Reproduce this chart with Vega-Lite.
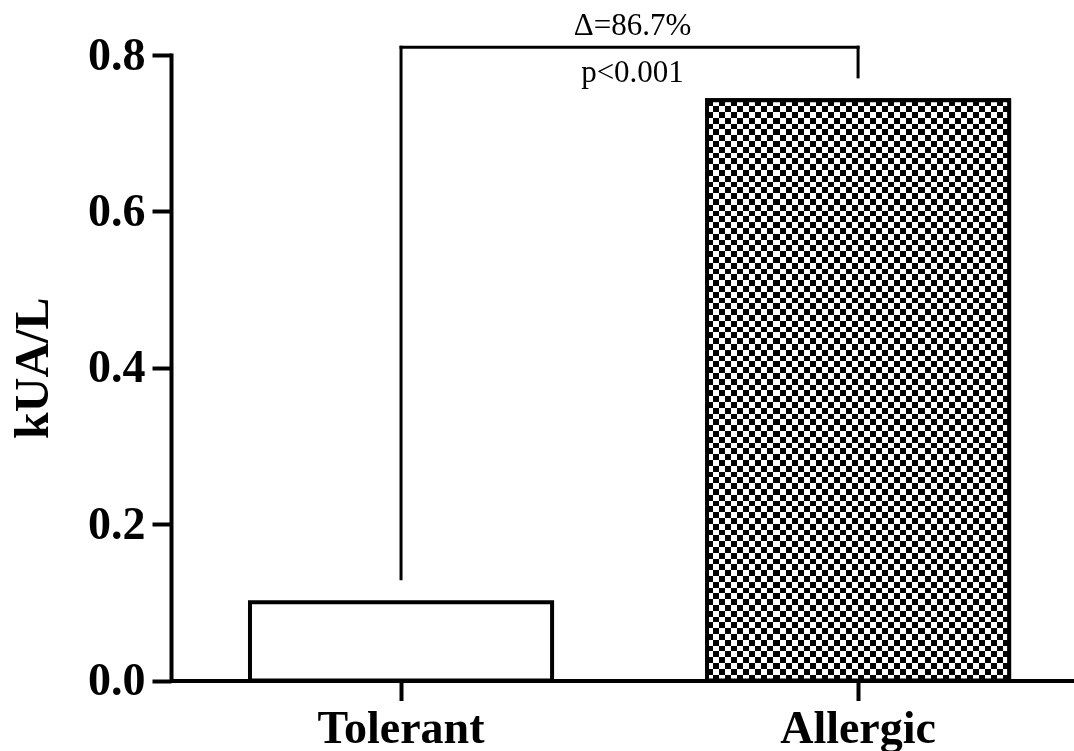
{
  "$schema": "https://vega.github.io/schema/vega-lite/v6.json",
  "width": 903,
  "height": 625.5,
  "autosize": {"type": "none"},
  "padding": {"left": 171, "top": 55, "right": 0, "bottom": 70.5},
  "background": "white",
  "config": {
    "view": {"stroke": null},
    "axis": {"grid": false, "domainColor": "black", "tickColor": "black", "labelColor": "black", "titleColor": "black", "domainWidth": 4, "tickWidth": 4, "labelFont": "Liberation Serif", "labelFontSize": 46, "labelFontWeight": "bold", "titleFont": "Liberation Serif", "titleFontWeight": "bold"},
    "axisX": {"labelAngle": 0, "labelPadding": 6, "tickSize": 20},
    "axisY": {"labelPadding": 7, "tickSize": 19, "titleFontSize": 48, "titlePadding": 30, "domainCap": "square"}
  },
  "datasets": {
    "bars": [
      {"group": "Tolerant", "value": 0.1},
      {"group": "Allergic", "value": 0.742}
    ],
    "bracket": [
      {"group": "Tolerant", "group2": "Tolerant", "value": 0.13, "value2": 0.81},
      {"group": "Tolerant", "group2": "Allergic", "value": 0.81, "value2": 0.81},
      {"group": "Allergic", "group2": "Allergic", "value": 0.772, "value2": 0.81}
    ],
    "notes": [
      {"label": "Δ=86.7%", "value": 0.826},
      {"label": "p<0.001", "value": 0.765}
    ]
  },
  "layer": [
    {
      "data": {"name": "bars"},
      "mark": {"type": "bar", "fill": "white", "stroke": "black", "strokeWidth": 4},
      "encoding": {
        "x": {
          "field": "group", "type": "nominal", "title": null,
          "scale": {"domain": ["Tolerant", "Allergic"], "paddingInner": 0.339, "paddingOuter": 0.1574, "align": 0.549}
        },
        "y": {
          "field": "value", "type": "quantitative", "title": "kUA/L",
          "scale": {"domain": [0, 0.8], "nice": false, "zero": true},
          "axis": {"values": [0, 0.2, 0.4, 0.6, 0.8], "format": ".1f"}
        }
      }
    },
    {
      "data": {"name": "bars"},
      "transform": [{"filter": "datum.group === 'Allergic'"}],
      "mark": {"type": "bar", "strokeWidth": 0, "fill": {"gradient": "linear", "x1": 0, "y1": 0, "x2": 0, "y2": 1, "stops": [
        {"offset":0,"color":"#000"},{"offset":0.01,"color":"#000"},{"offset":0.01,"color":"#fff"},{"offset":0.02,"color":"#fff"},
        {"offset":0.02,"color":"#000"},{"offset":0.03,"color":"#000"},{"offset":0.03,"color":"#fff"},{"offset":0.04,"color":"#fff"},
        {"offset":0.04,"color":"#000"},{"offset":0.05,"color":"#000"},{"offset":0.05,"color":"#fff"},{"offset":0.06,"color":"#fff"},
        {"offset":0.06,"color":"#000"},{"offset":0.07,"color":"#000"},{"offset":0.07,"color":"#fff"},{"offset":0.08,"color":"#fff"},
        {"offset":0.08,"color":"#000"},{"offset":0.09,"color":"#000"},{"offset":0.09,"color":"#fff"},{"offset":0.10,"color":"#fff"},
        {"offset":0.10,"color":"#000"},{"offset":0.11,"color":"#000"},{"offset":0.11,"color":"#fff"},{"offset":0.12,"color":"#fff"},
        {"offset":0.12,"color":"#000"},{"offset":0.13,"color":"#000"},{"offset":0.13,"color":"#fff"},{"offset":0.14,"color":"#fff"},
        {"offset":0.14,"color":"#000"},{"offset":0.15,"color":"#000"},{"offset":0.15,"color":"#fff"},{"offset":0.16,"color":"#fff"},
        {"offset":0.16,"color":"#000"},{"offset":0.17,"color":"#000"},{"offset":0.17,"color":"#fff"},{"offset":0.18,"color":"#fff"},
        {"offset":0.18,"color":"#000"},{"offset":0.19,"color":"#000"},{"offset":0.19,"color":"#fff"},{"offset":0.20,"color":"#fff"},
        {"offset":0.20,"color":"#000"},{"offset":0.21,"color":"#000"},{"offset":0.21,"color":"#fff"},{"offset":0.22,"color":"#fff"},
        {"offset":0.22,"color":"#000"},{"offset":0.23,"color":"#000"},{"offset":0.23,"color":"#fff"},{"offset":0.24,"color":"#fff"},
        {"offset":0.24,"color":"#000"},{"offset":0.25,"color":"#000"},{"offset":0.25,"color":"#fff"},{"offset":0.26,"color":"#fff"},
        {"offset":0.26,"color":"#000"},{"offset":0.27,"color":"#000"},{"offset":0.27,"color":"#fff"},{"offset":0.28,"color":"#fff"},
        {"offset":0.28,"color":"#000"},{"offset":0.29,"color":"#000"},{"offset":0.29,"color":"#fff"},{"offset":0.30,"color":"#fff"},
        {"offset":0.30,"color":"#000"},{"offset":0.31,"color":"#000"},{"offset":0.31,"color":"#fff"},{"offset":0.32,"color":"#fff"},
        {"offset":0.32,"color":"#000"},{"offset":0.33,"color":"#000"},{"offset":0.33,"color":"#fff"},{"offset":0.34,"color":"#fff"},
        {"offset":0.34,"color":"#000"},{"offset":0.35,"color":"#000"},{"offset":0.35,"color":"#fff"},{"offset":0.36,"color":"#fff"},
        {"offset":0.36,"color":"#000"},{"offset":0.37,"color":"#000"},{"offset":0.37,"color":"#fff"},{"offset":0.38,"color":"#fff"},
        {"offset":0.38,"color":"#000"},{"offset":0.39,"color":"#000"},{"offset":0.39,"color":"#fff"},{"offset":0.40,"color":"#fff"},
        {"offset":0.40,"color":"#000"},{"offset":0.41,"color":"#000"},{"offset":0.41,"color":"#fff"},{"offset":0.42,"color":"#fff"},
        {"offset":0.42,"color":"#000"},{"offset":0.43,"color":"#000"},{"offset":0.43,"color":"#fff"},{"offset":0.44,"color":"#fff"},
        {"offset":0.44,"color":"#000"},{"offset":0.45,"color":"#000"},{"offset":0.45,"color":"#fff"},{"offset":0.46,"color":"#fff"},
        {"offset":0.46,"color":"#000"},{"offset":0.47,"color":"#000"},{"offset":0.47,"color":"#fff"},{"offset":0.48,"color":"#fff"},
        {"offset":0.48,"color":"#000"},{"offset":0.49,"color":"#000"},{"offset":0.49,"color":"#fff"},{"offset":0.50,"color":"#fff"},
        {"offset":0.50,"color":"#000"},{"offset":0.51,"color":"#000"},{"offset":0.51,"color":"#fff"},{"offset":0.52,"color":"#fff"},
        {"offset":0.52,"color":"#000"},{"offset":0.53,"color":"#000"},{"offset":0.53,"color":"#fff"},{"offset":0.54,"color":"#fff"},
        {"offset":0.54,"color":"#000"},{"offset":0.55,"color":"#000"},{"offset":0.55,"color":"#fff"},{"offset":0.56,"color":"#fff"},
        {"offset":0.56,"color":"#000"},{"offset":0.57,"color":"#000"},{"offset":0.57,"color":"#fff"},{"offset":0.58,"color":"#fff"},
        {"offset":0.58,"color":"#000"},{"offset":0.59,"color":"#000"},{"offset":0.59,"color":"#fff"},{"offset":0.60,"color":"#fff"},
        {"offset":0.60,"color":"#000"},{"offset":0.61,"color":"#000"},{"offset":0.61,"color":"#fff"},{"offset":0.62,"color":"#fff"},
        {"offset":0.62,"color":"#000"},{"offset":0.63,"color":"#000"},{"offset":0.63,"color":"#fff"},{"offset":0.64,"color":"#fff"},
        {"offset":0.64,"color":"#000"},{"offset":0.65,"color":"#000"},{"offset":0.65,"color":"#fff"},{"offset":0.66,"color":"#fff"},
        {"offset":0.66,"color":"#000"},{"offset":0.67,"color":"#000"},{"offset":0.67,"color":"#fff"},{"offset":0.68,"color":"#fff"},
        {"offset":0.68,"color":"#000"},{"offset":0.69,"color":"#000"},{"offset":0.69,"color":"#fff"},{"offset":0.70,"color":"#fff"},
        {"offset":0.70,"color":"#000"},{"offset":0.71,"color":"#000"},{"offset":0.71,"color":"#fff"},{"offset":0.72,"color":"#fff"},
        {"offset":0.72,"color":"#000"},{"offset":0.73,"color":"#000"},{"offset":0.73,"color":"#fff"},{"offset":0.74,"color":"#fff"},
        {"offset":0.74,"color":"#000"},{"offset":0.75,"color":"#000"},{"offset":0.75,"color":"#fff"},{"offset":0.76,"color":"#fff"},
        {"offset":0.76,"color":"#000"},{"offset":0.77,"color":"#000"},{"offset":0.77,"color":"#fff"},{"offset":0.78,"color":"#fff"},
        {"offset":0.78,"color":"#000"},{"offset":0.79,"color":"#000"},{"offset":0.79,"color":"#fff"},{"offset":0.80,"color":"#fff"},
        {"offset":0.80,"color":"#000"},{"offset":0.81,"color":"#000"},{"offset":0.81,"color":"#fff"},{"offset":0.82,"color":"#fff"},
        {"offset":0.82,"color":"#000"},{"offset":0.83,"color":"#000"},{"offset":0.83,"color":"#fff"},{"offset":0.84,"color":"#fff"},
        {"offset":0.84,"color":"#000"},{"offset":0.85,"color":"#000"},{"offset":0.85,"color":"#fff"},{"offset":0.86,"color":"#fff"},
        {"offset":0.86,"color":"#000"},{"offset":0.87,"color":"#000"},{"offset":0.87,"color":"#fff"},{"offset":0.88,"color":"#fff"},
        {"offset":0.88,"color":"#000"},{"offset":0.89,"color":"#000"},{"offset":0.89,"color":"#fff"},{"offset":0.90,"color":"#fff"},
        {"offset":0.90,"color":"#000"},{"offset":0.91,"color":"#000"},{"offset":0.91,"color":"#fff"},{"offset":0.92,"color":"#fff"},
        {"offset":0.92,"color":"#000"},{"offset":0.93,"color":"#000"},{"offset":0.93,"color":"#fff"},{"offset":0.94,"color":"#fff"},
        {"offset":0.94,"color":"#000"},{"offset":0.95,"color":"#000"},{"offset":0.95,"color":"#fff"},{"offset":0.96,"color":"#fff"},
        {"offset":0.96,"color":"#000"},{"offset":0.97,"color":"#000"},{"offset":0.97,"color":"#fff"},{"offset":0.98,"color":"#fff"},
        {"offset":0.98,"color":"#000"},{"offset":0.99,"color":"#000"},{"offset":0.99,"color":"#fff"},{"offset":1,"color":"#fff"}
      ]}},
      "encoding": {
        "x": {"field": "group", "type": "nominal", "title": null},
        "y": {"field": "value", "type": "quantitative", "title": "kUA/L", "axis": {"values": [0, 0.2, 0.4, 0.6, 0.8], "format": ".1f"}}
      }
    },
    {
      "data": {"name": "bars"},
      "transform": [{"filter": "datum.group === 'Allergic'"}],
      "mark": {"type": "bar", "strokeWidth": 0, "blend": "difference", "fill": {"gradient": "linear", "x1": 0, "y1": 0, "x2": 1, "y2": 0, "stops": [
        {"offset":0,"color":"#000"},{"offset":0.02,"color":"#000"},{"offset":0.02,"color":"#fff"},{"offset":0.04,"color":"#fff"},
        {"offset":0.04,"color":"#000"},{"offset":0.06,"color":"#000"},{"offset":0.06,"color":"#fff"},{"offset":0.08,"color":"#fff"},
        {"offset":0.08,"color":"#000"},{"offset":0.10,"color":"#000"},{"offset":0.10,"color":"#fff"},{"offset":0.12,"color":"#fff"},
        {"offset":0.12,"color":"#000"},{"offset":0.14,"color":"#000"},{"offset":0.14,"color":"#fff"},{"offset":0.16,"color":"#fff"},
        {"offset":0.16,"color":"#000"},{"offset":0.18,"color":"#000"},{"offset":0.18,"color":"#fff"},{"offset":0.20,"color":"#fff"},
        {"offset":0.20,"color":"#000"},{"offset":0.22,"color":"#000"},{"offset":0.22,"color":"#fff"},{"offset":0.24,"color":"#fff"},
        {"offset":0.24,"color":"#000"},{"offset":0.26,"color":"#000"},{"offset":0.26,"color":"#fff"},{"offset":0.28,"color":"#fff"},
        {"offset":0.28,"color":"#000"},{"offset":0.30,"color":"#000"},{"offset":0.30,"color":"#fff"},{"offset":0.32,"color":"#fff"},
        {"offset":0.32,"color":"#000"},{"offset":0.34,"color":"#000"},{"offset":0.34,"color":"#fff"},{"offset":0.36,"color":"#fff"},
        {"offset":0.36,"color":"#000"},{"offset":0.38,"color":"#000"},{"offset":0.38,"color":"#fff"},{"offset":0.40,"color":"#fff"},
        {"offset":0.40,"color":"#000"},{"offset":0.42,"color":"#000"},{"offset":0.42,"color":"#fff"},{"offset":0.44,"color":"#fff"},
        {"offset":0.44,"color":"#000"},{"offset":0.46,"color":"#000"},{"offset":0.46,"color":"#fff"},{"offset":0.48,"color":"#fff"},
        {"offset":0.48,"color":"#000"},{"offset":0.50,"color":"#000"},{"offset":0.50,"color":"#fff"},{"offset":0.52,"color":"#fff"},
        {"offset":0.52,"color":"#000"},{"offset":0.54,"color":"#000"},{"offset":0.54,"color":"#fff"},{"offset":0.56,"color":"#fff"},
        {"offset":0.56,"color":"#000"},{"offset":0.58,"color":"#000"},{"offset":0.58,"color":"#fff"},{"offset":0.60,"color":"#fff"},
        {"offset":0.60,"color":"#000"},{"offset":0.62,"color":"#000"},{"offset":0.62,"color":"#fff"},{"offset":0.64,"color":"#fff"},
        {"offset":0.64,"color":"#000"},{"offset":0.66,"color":"#000"},{"offset":0.66,"color":"#fff"},{"offset":0.68,"color":"#fff"},
        {"offset":0.68,"color":"#000"},{"offset":0.70,"color":"#000"},{"offset":0.70,"color":"#fff"},{"offset":0.72,"color":"#fff"},
        {"offset":0.72,"color":"#000"},{"offset":0.74,"color":"#000"},{"offset":0.74,"color":"#fff"},{"offset":0.76,"color":"#fff"},
        {"offset":0.76,"color":"#000"},{"offset":0.78,"color":"#000"},{"offset":0.78,"color":"#fff"},{"offset":0.80,"color":"#fff"},
        {"offset":0.80,"color":"#000"},{"offset":0.82,"color":"#000"},{"offset":0.82,"color":"#fff"},{"offset":0.84,"color":"#fff"},
        {"offset":0.84,"color":"#000"},{"offset":0.86,"color":"#000"},{"offset":0.86,"color":"#fff"},{"offset":0.88,"color":"#fff"},
        {"offset":0.88,"color":"#000"},{"offset":0.90,"color":"#000"},{"offset":0.90,"color":"#fff"},{"offset":0.92,"color":"#fff"},
        {"offset":0.92,"color":"#000"},{"offset":0.94,"color":"#000"},{"offset":0.94,"color":"#fff"},{"offset":0.96,"color":"#fff"},
        {"offset":0.96,"color":"#000"},{"offset":0.98,"color":"#000"},{"offset":0.98,"color":"#fff"},{"offset":1,"color":"#fff"}
      ]}},
      "encoding": {
        "x": {"field": "group", "type": "nominal", "title": null},
        "y": {"field": "value", "type": "quantitative", "title": "kUA/L", "axis": {"values": [0, 0.2, 0.4, 0.6, 0.8], "format": ".1f"}}
      }
    },
    {
      "data": {"name": "bars"},
      "transform": [{"filter": "datum.group === 'Allergic'"}],
      "mark": {"type": "bar", "fill": "transparent", "stroke": "black", "strokeWidth": 4},
      "encoding": {
        "x": {"field": "group", "type": "nominal", "title": null},
        "y": {"field": "value", "type": "quantitative", "title": "kUA/L", "axis": {"values": [0, 0.2, 0.4, 0.6, 0.8], "format": ".1f"}}
      }
    },
    {
      "data": {"name": "bracket"},
      "mark": {"type": "rule", "stroke": "black", "strokeWidth": 3, "strokeCap": "square"},
      "encoding": {
        "x": {"field": "group", "type": "nominal", "title": null},
        "x2": {"field": "group2", "title": null},
        "y": {"field": "value", "type": "quantitative", "title": "kUA/L", "axis": {"values": [0, 0.2, 0.4, 0.6, 0.8], "format": ".1f"}},
        "y2": {"field": "value2", "title": null}
      }
    },
    {
      "data": {"name": "notes"},
      "mark": {"type": "text", "font": "Liberation Serif", "fontSize": 31, "color": "black", "baseline": "alphabetic", "align": "center", "dx": 10},
      "encoding": {
        "y": {"field": "value", "type": "quantitative", "title": "kUA/L", "axis": {"values": [0, 0.2, 0.4, 0.6, 0.8], "format": ".1f"}},
        "text": {"field": "label"}
      }
    }
  ]
}
